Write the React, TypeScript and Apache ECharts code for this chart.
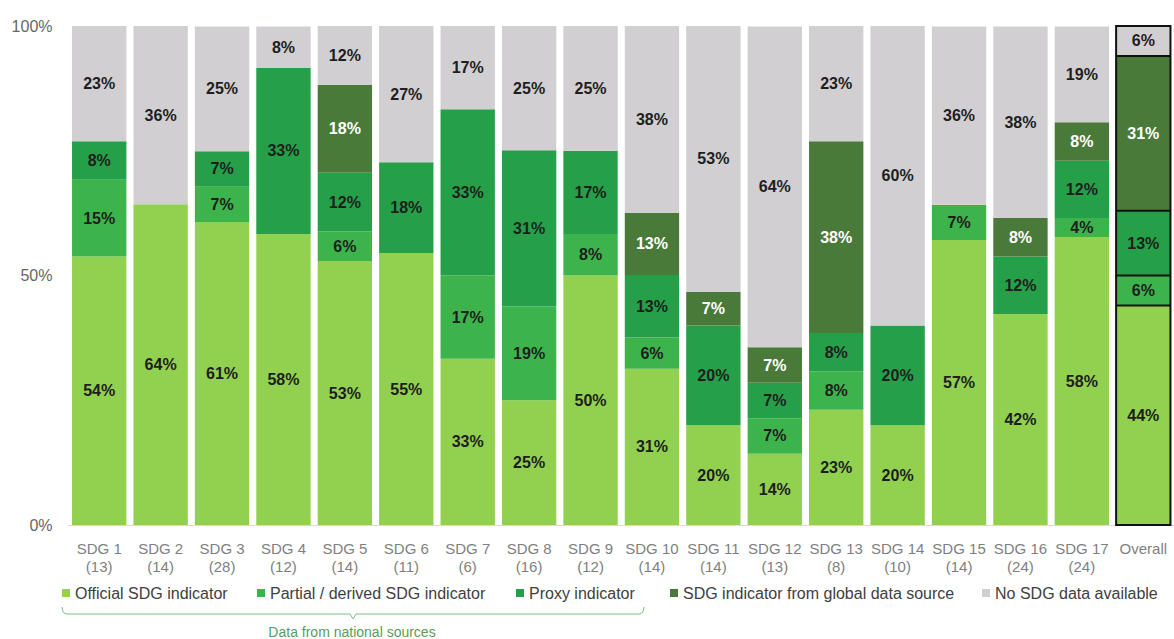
import React, { useEffect, useRef } from "react";
import * as echarts from "echarts";

const categories = [
  "SDG 1", "SDG 2", "SDG 3", "SDG 4", "SDG 5", "SDG 6", "SDG 7", "SDG 8", "SDG 9",
  "SDG 10", "SDG 11", "SDG 12", "SDG 13", "SDG 14", "SDG 15", "SDG 16", "SDG 17", "Overall",
];
const indicatorCounts = ["13", "14", "28", "12", "14", "11", "6", "16", "12", "14", "14", "13", "8", "10", "14", "24", "24", ""];

// shares (%); labels show them rounded
const official = [53.8, 64.3, 60.7, 58.3, 52.9, 54.5, 33.3, 25, 50, 31.3, 20, 14.3, 23.1, 20, 57.1, 42.3, 57.7, 44];
const partial = [15.4, null, 7.1, null, 5.9, null, 16.7, 18.8, 8.3, 6.3, null, 7.1, 7.7, null, 7.1, null, 3.8, 6];
const proxy = [7.7, null, 7.1, 33.3, 11.8, 18.2, 33.3, 31.3, 16.7, 12.5, 20, 7.1, 7.7, 20, null, 11.5, 11.5, 13];
const globalSource = [null, null, null, null, 17.6, null, null, null, null, 12.5, 6.7, 7.1, 38.4, null, null, 7.7, 7.7, 31];
const noData = [23.1, 35.7, 25, 8.3, 11.8, 27.3, 16.7, 25, 25, 37.5, 53.3, 64.3, 23.1, 60, 35.7, 38.4, 19.2, 6];

const seriesNames = [
  "Official SDG indicator",
  "Partial / derived SDG indicator",
  "Proxy indicator",
  "SDG indicator from global data source",
  "No SDG data available",
];
const seriesValues = [official, partial, proxy, globalSource, noData];
const seriesColors = ["#92d050", "#3cb44b", "#25a049", "#4a7a3a", "#d1cfd2"];
const labelColors = ["#1e1e1e", "#1e1e1e", "#1e1e1e", "#ffffff", "#1e1e1e"];
const yTicks = [0, 50, 100];

const legendX = [62, 257, 516, 670, 982];

const SANS = '"Liberation Sans", Arial, sans-serif';
const BAR_GAP = 0.115;

export default function App() {
  const ref = useRef<HTMLDivElement>(null);

  useEffect(() => {
    if (!ref.current) return;
    const chart = echarts.init(ref.current, undefined, { renderer: "svg" });
    const lastIdx = categories.length - 1;

    const bars = seriesNames.map((name, si) => ({
      name,
      type: "bar",
      stack: "total",
      barCategoryGap: `${BAR_GAP * 100}%`,
      itemStyle: { color: seriesColors[si] },
      label: {
        show: true,
        position: "inside",
        formatter: (p: any) => (p.value == null ? "" : `${Math.round(p.value)}%`),
        color: labelColors[si],
        fontSize: 16,
        fontWeight: "bold",
        fontFamily: SANS,
      },
      data: seriesValues[si],
    }));

    // cumulative boundaries of the "Overall" bar, for its black outline
    const bounds: number[] = [0];
    seriesValues.forEach((arr) => {
      const v = arr[lastIdx];
      if (v != null) bounds.push(bounds[bounds.length - 1] + v);
    });

    const outline = {
      type: "custom",
      name: "outline",
      z: 5,
      silent: true,
      data: [[lastIdx, ...bounds]],
      renderItem: (params: any, api: any) => {
        const idx = api.value(0);
        const bw = api.size([1, 0])[0] * (1 - BAR_GAP);
        const children: any[] = [];
        const pts = bounds.map((_, k) => api.coord([idx, api.value(k + 1)]));
        const x0 = pts[0][0] - bw / 2;
        const yBottom = pts[0][1];
        const yTop = pts[pts.length - 1][1];
        children.push({
          type: "rect",
          shape: { x: x0, y: yTop, width: bw, height: yBottom - yTop },
          style: { fill: "none", stroke: "#111111", lineWidth: 2 },
        });
        for (let k = 1; k < pts.length - 1; k++) {
          children.push({
            type: "line",
            shape: { x1: x0, y1: pts[k][1], x2: x0 + bw, y2: pts[k][1] },
            style: { stroke: "#111111", lineWidth: 2 },
          });
        }
        return { type: "group", children };
      },
    };

    chart.setOption({
      animation: false,
      backgroundColor: "#ffffff",
      grid: { left: 68.5, width: 1110.6, top: 26, bottom: 114, containLabel: false },
      xAxis: {
        type: "category",
        data: categories,
        axisLine: { show: true, lineStyle: { color: "#d9d9d9", width: 1 } },
        axisTick: { show: false },
        axisLabel: {
          interval: 0,
          margin: 14,
          color: "#7f7f7f",
          fontSize: 15,
          lineHeight: 18,
          fontFamily: SANS,
          formatter: (v: string, i: number) =>
            indicatorCounts[i] ? `${v}\n(${indicatorCounts[i]})` : v,
        },
      },
      yAxis: {
        type: "value",
        min: yTicks[0],
        max: yTicks[yTicks.length - 1],
        interval: 50,
        axisLine: { show: false },
        axisTick: { show: false },
        splitLine: { show: false },
        axisLabel: {
          margin: 16,
          color: "#666666",
          fontSize: 16,
          fontFamily: SANS,
          formatter: "{value}%",
        },
      },
      legend: seriesNames.map((name, i) => ({
        data: [{ name, itemStyle: { color: seriesColors[i] } }],
        left: legendX[i],
        top: 585,
        padding: 0,
        itemWidth: 8,
        itemHeight: 8,
        icon: "rect",
        selectedMode: false,
        textStyle: { color: "#404040", fontSize: 16, fontFamily: SANS },
      })),
      graphic: [
        {
          type: "polyline",
          shape: {
            points: [
              [62, 607], [63, 612], [66, 614], [350, 614], [353, 619], [356, 614],
              [640, 614], [643, 612], [644, 607],
            ],
          },
          style: { stroke: "#80bf80", lineWidth: 1, fill: null },
          silent: true,
        },
        {
          type: "text",
          style: {
            text: "Data from national sources",
            x: 352,
            y: 632,
            align: "center",
            verticalAlign: "middle",
            fill: "#5a9d5a",
            fontSize: 14,
            fontFamily: SANS,
          },
          silent: true,
        },
      ],
      series: [...bars, outline],
    });

    return () => chart.dispose();
  }, []);

  return (
    <div
      ref={ref}
      style={{ position: "absolute", left: 0, top: 0, width: 1174, height: 639, overflow: "hidden" }}
    />
  );
}
